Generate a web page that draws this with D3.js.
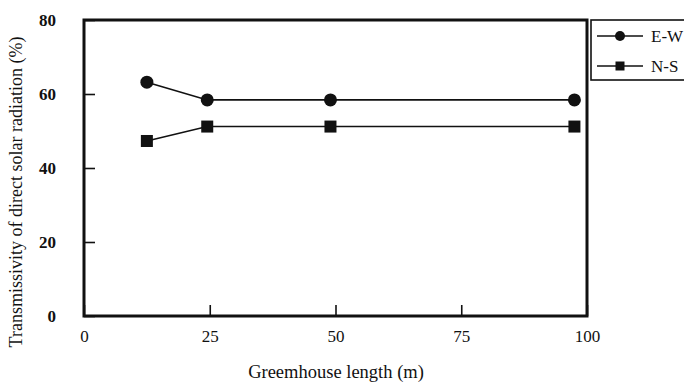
<!DOCTYPE html>
<html>
<head>
<meta charset="utf-8">
<script src="https://cdn.jsdelivr.net/npm/d3@7"></script>
<style>
  body { margin: 0; background: #fff; }
  text { font-family: "Liberation Serif", "DejaVu Serif", serif; fill: #111; }
</style>
</head>
<body>
<svg id="chart" width="684" height="385"></svg>
<script>
// greenhouse length (m)
const lengths = [12.5, 24.5, 49, 97.5]
// transmissivity (%) per orientation
const ewValues = [63.2, 58.4, 58.4, 58.4]
const nsValues = [47.3, 51.2, 51.2, 51.2]
const xTicks = [0, 25, 50, 75, 100]
const yTicks = [0, 20, 40, 60, 80]
const seriesNames = ['E-W', 'N-S']

const series = [
  { name: seriesNames[0], values: ewValues, shape: 'circle' },
  { name: seriesNames[1], values: nsValues, shape: 'square' }
]

let margin = { left: 84, top: 20, right: 97, bottom: 69 }
let width = 684, height = 385

const svg = d3.select('#chart')

let x = d3.scaleLinear().domain([0, 100]).range([margin.left, width - margin.right])
let y = d3.scaleLinear().domain([0, 80]).range([height - margin.bottom, margin.top])

// inward ticks
let xAxis = g => g
  .attr('transform', `translate(0,${y(0)})`)
  .call(d3.axisBottom(x).tickValues(xTicks).tickSizeInner(-11).tickSizeOuter(0).tickPadding(14))
  .call(g => g.select('.domain').remove())
  .call(g => g.selectAll('.tick line').attr('stroke', '#111').attr('stroke-width', 1.6))
  .call(g => g.selectAll('.tick text').attr('font-size', 17).attr('font-family', 'Liberation Serif'))

let yAxis = g => g
  .attr('transform', `translate(${x(0)},0)`)
  .call(d3.axisLeft(y).tickValues(yTicks).tickSizeInner(-11).tickSizeOuter(0).tickPadding(28))
  .call(g => g.select('.domain').remove())
  .call(g => g.selectAll('.tick line').attr('stroke', '#111').attr('stroke-width', 1.6))
  .call(g => g.selectAll('.tick text').attr('font-size', 17).attr('font-weight', 'bold').attr('font-family', 'Liberation Serif'))

svg.append('g').call(xAxis)
svg.append('g').call(yAxis)

// plot frame
svg.append('rect')
  .attr('x', x(0)).attr('y', y(80))
  .attr('width', x(100) - x(0)).attr('height', y(0) - y(80))
  .attr('fill', 'none').attr('stroke', '#111').attr('stroke-width', 3)

let line = d3.line().x((d, i) => x(lengths[i])).y(d => y(d))

function drawMarker(g, shape, cx, cy) {
  if (shape === 'circle') {
    g.append('circle').attr('cx', cx).attr('cy', cy).attr('r', 6.5).attr('fill', '#111')
  } else {
    g.append('rect').attr('x', cx - 6).attr('y', cy - 6).attr('width', 12).attr('height', 12).attr('fill', '#111')
  }
}

series.forEach(s => {
  const g = svg.append('g')
  g.append('path')
    .attr('d', line(s.values))
    .attr('fill', 'none').attr('stroke', '#111').attr('stroke-width', 1.6)
  s.values.forEach((v, i) => drawMarker(g, s.shape, x(lengths[i]), y(v)))
})

// legend
const legend = svg.append('g')
legend.append('rect')
  .attr('x', 591).attr('y', 20).attr('width', 110).attr('height', 60)
  .attr('fill', 'none').attr('stroke', '#111').attr('stroke-width', 1.6)

series.forEach((s, i) => {
  const ly = 36 + i * 30
  legend.append('line')
    .attr('x1', 597).attr('x2', 643).attr('y1', ly).attr('y2', ly)
    .attr('stroke', '#111').attr('stroke-width', 1.6)
  const mg = legend.append('g')
  if (s.shape === 'circle') {
    mg.append('circle').attr('cx', 620).attr('cy', ly).attr('r', 5).attr('fill', '#111')
  } else {
    mg.append('rect').attr('x', 615.5).attr('y', ly - 4.5).attr('width', 9).attr('height', 9).attr('fill', '#111')
  }
  legend.append('text')
    .attr('x', 651).attr('y', ly).attr('dy', '0.35em')
    .attr('font-size', 17)
    .text(s.name)
})

// axis titles
svg.append('text')
  .attr('x', 336).attr('y', 378)
  .attr('text-anchor', 'middle')
  .attr('font-size', 18.5)
  .text('Greemhouse length (m)')

svg.append('text')
  .attr('transform', `translate(22,${192}) rotate(-90)`)
  .attr('text-anchor', 'middle')
  .attr('font-size', 18)
  .text('Transmissivity of direct solar radiation (%)')
</script>
</body>
</html>
